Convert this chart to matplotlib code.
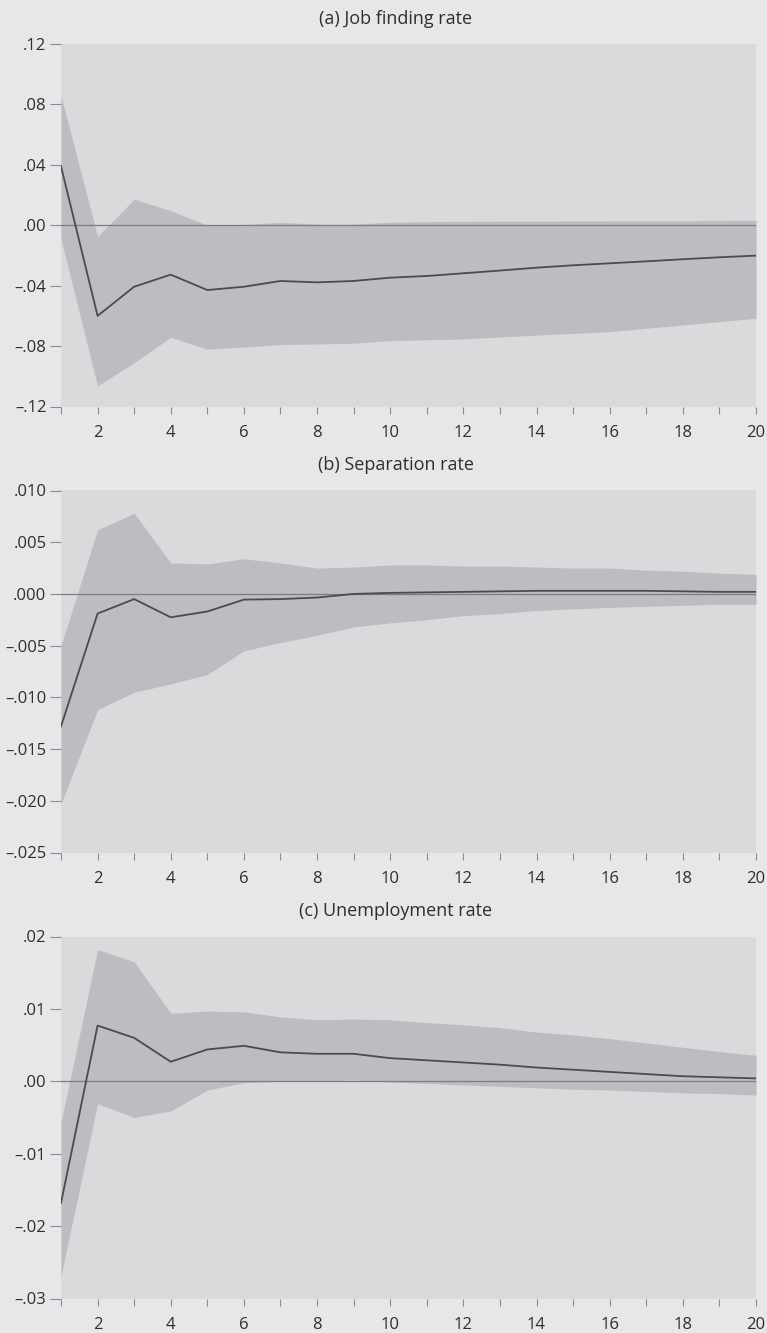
import matplotlib
matplotlib.use("Agg")
import matplotlib.pyplot as plt
import numpy as np

plt.rcParams['font.family'] = ['Open Sans', 'DejaVu Sans']

horizon = list(range(1, 21))

# (a) Job finding rate
jf_irf = [0.039, -0.060, -0.0407, -0.0327, -0.0429, -0.0407, -0.0369, -0.0378, -0.0369, -0.0347,
          -0.0336, -0.0318, -0.0300, -0.0281, -0.0265, -0.0252, -0.0239, -0.0225, -0.0212, -0.0201]
jf_up = [0.0859, -0.0075, 0.0172, 0.0097, 0.0000, 0.0004, 0.0020, 0.0007, 0.0007, 0.0020,
         0.0024, 0.0026, 0.0027, 0.0027, 0.0028, 0.0028, 0.0029, 0.0030, 0.0031, 0.0033]
jf_lo = [-0.0093, -0.1064, -0.0910, -0.0742, -0.0821, -0.0806, -0.0790, -0.0786, -0.0781, -0.0764,
         -0.0758, -0.0753, -0.0740, -0.0727, -0.0716, -0.0705, -0.0682, -0.0660, -0.0638, -0.0616]

# (b) Separation rate
sep_irf = [-0.0128, -0.0019, -0.0005, -0.00226, -0.0017, -0.00055, -0.0005, -0.00035, 0.0000, 0.0001,
           0.00015, 0.0002, 0.00025, 0.0003, 0.0003, 0.0003, 0.0003, 0.00025, 0.0002, 0.0002]
sep_up = [-0.0050, 0.0062, 0.0078, 0.0030, 0.0029, 0.0034, 0.0030, 0.0025, 0.0026, 0.0028,
          0.0028, 0.0027, 0.0027, 0.0026, 0.0025, 0.0025, 0.0023, 0.0022, 0.0020, 0.0019]
sep_lo = [-0.0203, -0.0112, -0.0095, -0.0087, -0.0078, -0.0055, -0.0047, -0.0040, -0.0032, -0.0028,
          -0.0025, -0.0021, -0.0019, -0.0016, -0.00145, -0.0013, -0.0012, -0.0011, -0.0010, -0.0010]

# (c) Unemployment rate
un_irf = [-0.0168, 0.0077, 0.0060, 0.0027, 0.0044, 0.0049, 0.0040, 0.0038, 0.0038, 0.0032,
          0.0029, 0.0026, 0.0023, 0.0019, 0.0016, 0.0013, 0.0010, 0.0007, 0.00055, 0.0004]
un_up = [-0.0057, 0.0182, 0.0165, 0.0094, 0.0097, 0.0096, 0.0089, 0.0085, 0.0086, 0.0085,
         0.0081, 0.0078, 0.0074, 0.0068, 0.0064, 0.0059, 0.0053, 0.0047, 0.0041, 0.0036]
un_lo = [-0.0269, -0.0031, -0.0050, -0.0041, -0.0012, -0.0002, 0.0000, 0.0000, 0.0002, -0.0001,
         -0.0003, -0.0005, -0.0007, -0.0009, -0.0011, -0.0012, -0.0014, -0.0016, -0.0017, -0.0019]

titles = ["(a) Job finding rate", "(b) Separation rate", "(c) Unemployment rate"]

yticks_a = [-0.12, -0.08, -0.04, 0.0, 0.04, 0.08, 0.12]
ylabels_a = ["\u2013.12", "\u2013.08", "\u2013.04", ".00", ".04", ".08", ".12"]
yticks_b = [-0.025, -0.020, -0.015, -0.010, -0.005, 0.0, 0.005, 0.010]
ylabels_b = ["\u2013.025", "\u2013.020", "\u2013.015", "\u2013.010", "\u2013.005", ".000", ".005", ".010"]
yticks_c = [-0.03, -0.02, -0.01, 0.0, 0.01, 0.02]
ylabels_c = ["\u2013.03", "\u2013.02", "\u2013.01", ".00", ".01", ".02"]

xticks_major = [2, 4, 6, 8, 10, 12, 14, 16, 18, 20]

FIG_BG = "#e6e7e9"
AX_BG = "#d9dadc"
BAND = "#bcbdc0"
LINE = "#4b4b4d"
ZERO = "#7c7d80"
TICK = "#8a8b8e"
TXT = "#2e2e30"

W, H = 767, 1333
fig = plt.figure(figsize=(W / 100, H / 100), dpi=100, facecolor=FIG_BG)

# pixel boxes: (left, top, right, bottom)
boxes = [(61, 44, 756, 406.5), (61, 490.5, 756, 852.5), (61, 936.5, 756, 1298.5)]
title_y = [19, 465, 911]

panels = [
    (jf_irf, jf_up, jf_lo, yticks_a, ylabels_a),
    (sep_irf, sep_up, sep_lo, yticks_b, ylabels_b),
    (un_irf, un_up, un_lo, yticks_c, ylabels_c),
]

for i, (irf, up, lo, yt, yl) in enumerate(panels):
    l, t, r, b = boxes[i]
    ax = fig.add_axes([l / W, 1 - b / H, (r - l) / W, (b - t) / H])
    ax.set_facecolor(AX_BG)
    ax.fill_between(horizon, lo, up, color=BAND, linewidth=0, zorder=1)
    ax.axhline(0, color=ZERO, linewidth=0.9, zorder=2)
    ax.plot(horizon, irf, color=LINE, linewidth=1.3, zorder=3)
    ax.set_xlim(1, 20)
    ax.set_ylim(yt[0], yt[-1])
    ax.set_yticks(yt)
    ax.set_yticklabels(yl)
    ax.set_xticks(xticks_major)
    ax.set_xticks(horizon, minor=True)
    for s in ax.spines.values():
        s.set_visible(False)
    ax.tick_params(axis='y', which='major', length=8, width=0.8, color=TICK,
                   labelsize=12, labelcolor=TXT, pad=2.5)
    ax.tick_params(axis='x', which='both', length=5, width=0.8, color=TICK,
                   labelsize=12, labelcolor=TXT, pad=8)
    fig.text(396 / W, 1 - title_y[i] / H, titles[i], ha='center', va='center',
             fontsize=13, color=TXT)

fig.savefig("out.png", dpi=100, facecolor=FIG_BG)
